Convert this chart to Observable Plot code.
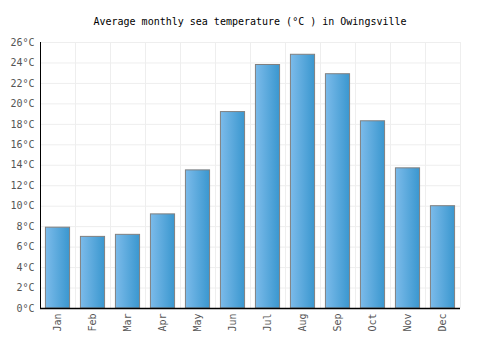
<!DOCTYPE html>
<html>
<head>
<meta charset="utf-8">
<script src="https://cdn.jsdelivr.net/npm/d3@7"></script>
<script src="https://cdn.jsdelivr.net/npm/@observablehq/plot@0.6"></script>
<style>
  html, body { margin: 0; padding: 0; background: #fff; }
  #title { height: 30px; width: 500px; text-align: center; font: 10px "DejaVu Sans Mono", monospace; color: #000; line-height: 14px; padding-top: 15px; box-sizing: border-box; }
</style>
</head>
<body>
<div id="title">Average monthly sea temperature (°C ) in Owingsville</div>
<div id="chart"></div>
<script>
const months = ["Jan","Feb","Mar","Apr","May","Jun","Jul","Aug","Sep","Oct","Nov","Dec"];
const temps = [7.9, 7.0, 7.2, 9.2, 13.5, 19.2, 23.8, 24.8, 22.9, 18.3, 13.7, 10.0];
const yTicks = [0,2,4,6,8,10,12,14,16,18,20,22,24,26];

const data = months.map((m, i) => ({month: m, temp: temps[i]}));

const defs = () => {
  const g = d3.create("svg:g");
  const grad = g.append("defs").append("linearGradient")
    .attr("id", "barGrad").attr("x1", "0").attr("x2", "1").attr("y1", "0").attr("y2", "0");
  grad.append("stop").attr("offset", "0%").attr("stop-color", "#7cbbea");
  grad.append("stop").attr("offset", "100%").attr("stop-color", "#3a97cf");
  return g.node();
};

const W = 500, ML = 40, MR = 40;
const half = (W - ML - MR) / months.length / 2;

const chart = Plot.plot({
  width: W,
  height: 320,
  marginTop: 12,
  marginBottom: 42,
  marginLeft: ML,
  marginRight: MR,
  style: {fontFamily: "'DejaVu Sans Mono', monospace", fontSize: "10px", color: "#555", background: "#fff"},
  x: {domain: months, round: false, paddingInner: 0.31, paddingOuter: 0.155, align: 0.5, label: null, tickSize: 0, tickPadding: 5, tickRotate: -90},
  y: {domain: [0, 26], ticks: yTicks, tickFormat: d => d + "°C", label: null, tickSize: 0, tickPadding: 6},
  marks: [
    defs,
    Plot.ruleY(yTicks, {stroke: "#eeeeee", strokeWidth: 1}),
    Plot.ruleX(months, {x: d => d, dx: half, stroke: "#eeeeee", strokeWidth: 1}),
    Plot.barY(data, {x: "month", y: "temp", fill: "url(#barGrad)", stroke: "#808080", strokeWidth: 1}),
    Plot.ruleX([months[0]], {x: d => d, dx: -half, stroke: "#000", strokeWidth: 1}),
    Plot.ruleY([0], {stroke: "#000", strokeWidth: 1.5})
  ]
});
document.getElementById("chart").appendChild(chart);
</script>
</body>
</html>
